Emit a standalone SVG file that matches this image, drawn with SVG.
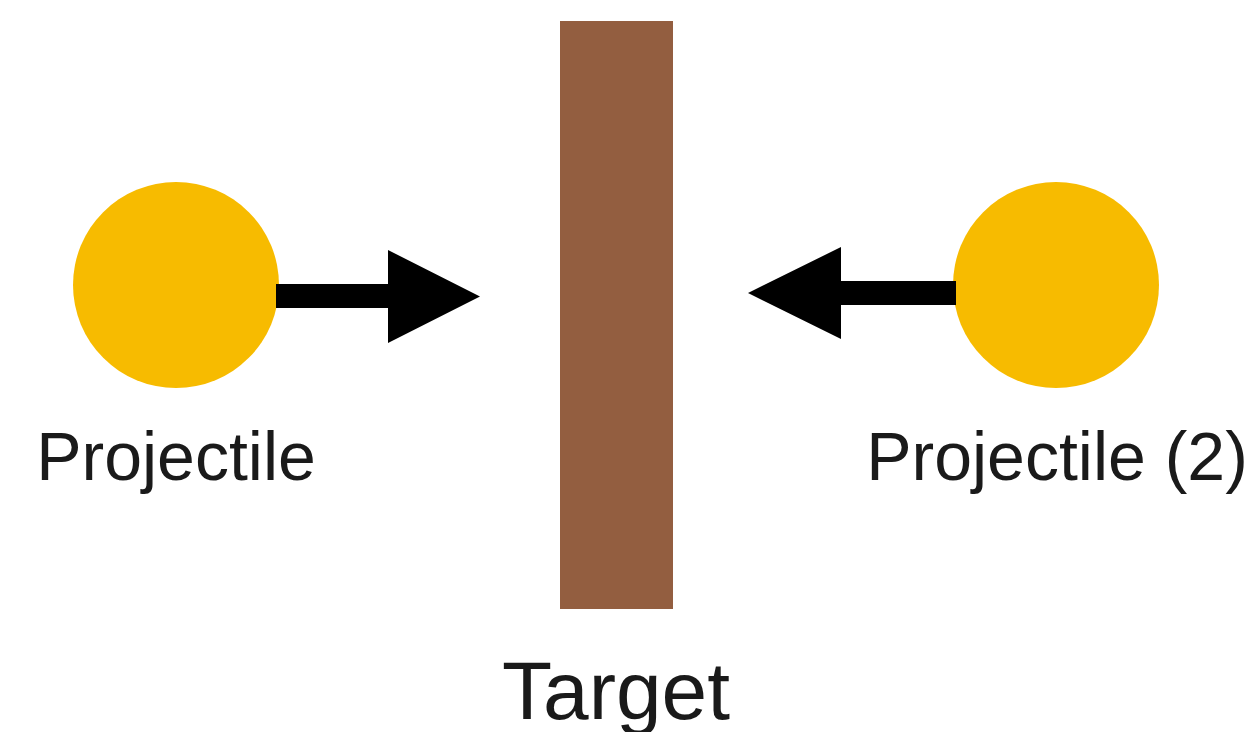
<svg xmlns="http://www.w3.org/2000/svg" width="1260" height="732" viewBox="0 0 1260 732">
  <style>
    .ball { fill: #F7BB00; }
    .label { font-family: "Liberation Sans", Arial, sans-serif; fill: #1a1a1a; text-anchor: middle; }
    .arrow { fill: #000000; }
  </style>
  <rect x="0" y="0" width="1260" height="732" fill="#ffffff"/>
  <g id="target">
    <rect x="560" y="21" width="113" height="588" fill="#935E40"/>
    <text class="label" x="616" y="719" font-size="82">Target</text>
  </g>
  <g id="projectile1">
    <circle class="ball" cx="176" cy="285" r="103"/>
    <text class="label" x="176" y="480" font-size="68">Projectile</text>
  </g>
  <g id="projectile2">
    <circle class="ball" cx="1056" cy="285" r="103"/>
    <text class="label" x="1057" y="480" font-size="68">Projectile (2)</text>
  </g>
  <g id="connectors">
    <path class="arrow" d="M276,284 L388,284 L388,250 L480,296.5 L388,343 L388,308 L276,308 Z"/>
    <path class="arrow" d="M956,281 L841,281 L841,247 L748,293 L841,339 L841,305 L956,305 Z"/>
  </g>
</svg>
